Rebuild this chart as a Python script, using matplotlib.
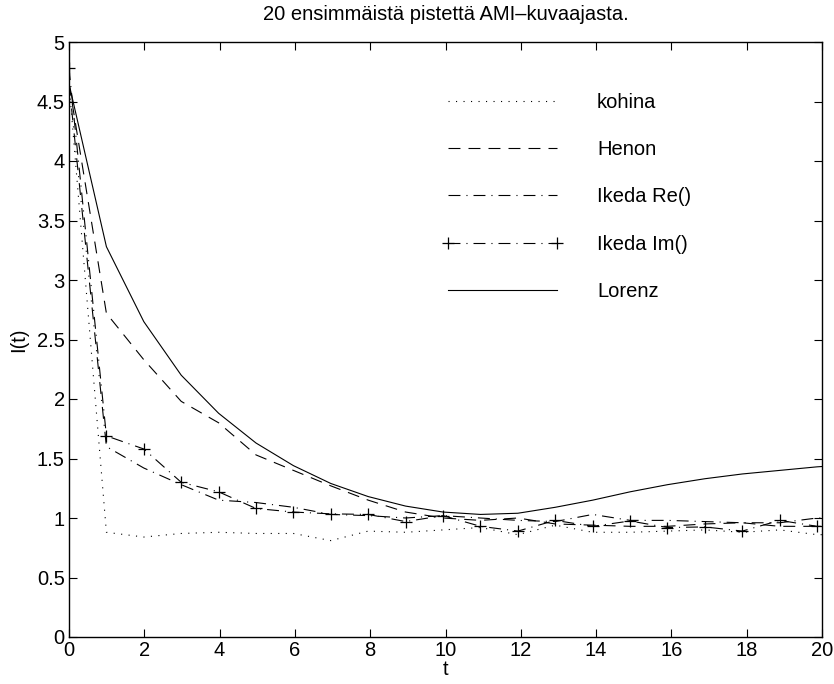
import numpy as np
import matplotlib
matplotlib.use('Agg')
import matplotlib.pyplot as plt

plt.rcParams['font.family'] = ['Liberation Sans', 'DejaVu Sans']
plt.rcParams['lines.scale_dashes'] = False

# AMI values for the first points (one extra point runs past the x limit)
step = 0.9935
kohina = [4.65, 0.88, 0.84, 0.87, 0.88, 0.87, 0.87, 0.81, 0.89, 0.88, 0.90,
          0.92, 0.86, 0.94, 0.88, 0.88, 0.89, 0.90, 0.88, 0.90, 0.86, 0.86]
henon = [4.65, 2.72, 2.33, 1.98, 1.80, 1.53, 1.40, 1.27, 1.15, 1.05, 1.00,
         0.98, 1.00, 0.95, 0.94, 0.93, 0.93, 0.95, 0.96, 0.93, 0.93, 0.93]
ikeda_re = [4.65, 1.60, 1.42, 1.28, 1.15, 1.13, 1.09, 1.03, 1.02, 1.00, 1.02,
            1.00, 0.98, 0.97, 1.03, 0.98, 0.98, 0.97, 0.96, 0.96, 1.00, 1.00]
ikeda_im = [4.78, 1.69, 1.58, 1.30, 1.22, 1.08, 1.05, 1.035, 1.03, 0.97, 1.02,
            0.93, 0.89, 0.98, 0.93, 0.975, 0.92, 0.925, 0.89, 0.98, 0.93, 0.93]
lorenz = [4.65, 3.28, 2.65, 2.20, 1.88, 1.63, 1.44, 1.29, 1.18, 1.10, 1.05,
          1.03, 1.04, 1.09, 1.15, 1.22, 1.28, 1.33, 1.37, 1.40, 1.43, 1.45]
t = np.arange(len(lorenz)) * step

fs = 14.5

fig = plt.figure(figsize=(8.34, 6.84), dpi=100)
ax = fig.add_axes([69 / 834, 1 - 637 / 684, 753 / 834, 595 / 684])

lw = 0.8
ax.plot(t, kohina, color='k', lw=lw, linestyle=(0, (0.8, 4.6)), label='kohina')
ax.plot(t, henon, color='k', lw=lw, linestyle=(0, (8.6, 5.8)), label='Henon')
ax.plot(t, ikeda_re, color='k', lw=lw, linestyle=(0, (8.6, 4.3, 0.8, 4.3)),
        label='Ikeda Re()')
ax.plot(t, ikeda_im, color='k', lw=lw, linestyle=(0, (8.6, 4.3, 0.8, 4.3)),
        marker='+', markersize=9, markeredgewidth=0.9, label='Ikeda Im()')
ax.plot(t, lorenz, color='k', lw=lw, linestyle='-', label='Lorenz')

ax.set_xlim(0, 20)
ax.set_ylim(0, 5)
ax.set_xticks(np.arange(0, 21, 2))
ax.set_yticks(np.arange(0, 5.01, 0.5))
ax.set_yticklabels(['0', '0.5', '1', '1.5', '2', '2.5', '3', '3.5', '4', '4.5', '5'])
ax.tick_params(direction='in', length=6, width=0.8, top=True, right=True,
               labelsize=fs, pad=3)
for s in ax.spines.values():
    s.set_linewidth(1.0)

ax.set_title('20 ensimmäistä pistettä AMI\u2013kuvaajasta.', fontsize=fs, pad=16)
ax.set_xlabel('t', fontsize=fs, labelpad=0)
ax.set_ylabel('I(t)', fontsize=fs, labelpad=6)

ax.legend(loc='upper left', bbox_to_anchor=(442 / 834, 1 - 93 / 684),
          bbox_transform=fig.transFigure, frameon=False, fontsize=fs,
          handlelength=6.0, handletextpad=1.7, labelspacing=1.4,
          borderpad=0, borderaxespad=0, numpoints=2)

fig.savefig('out.png', dpi=100)
